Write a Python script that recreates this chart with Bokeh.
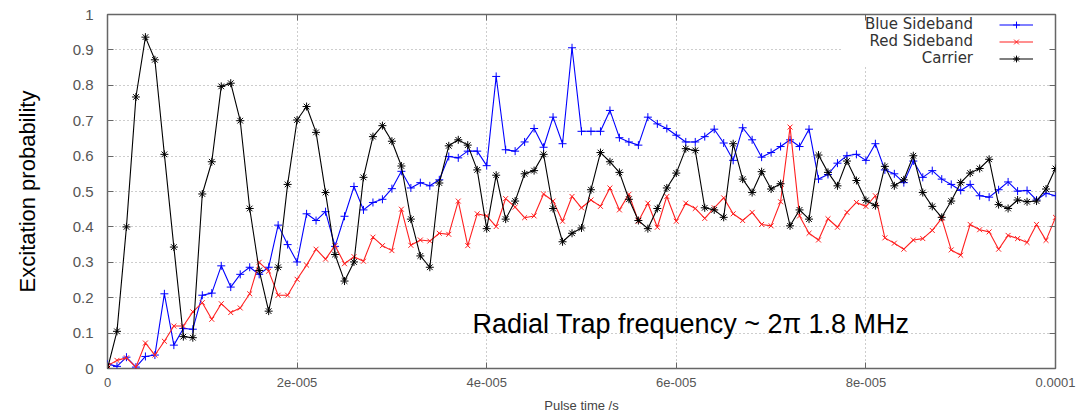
from bokeh.plotting import figure
from bokeh.models import (Range1d, FixedTicker, CustomJSTickFormatter, LinearAxis,
                          Legend, LegendItem, Label, BoxAnnotation)
from bokeh.core.properties import value
from bokeh.embed import file_html
from bokeh.resources import INLINE

# ---- data ----
time_s = [i * 1e-6 for i in range(101)]

blue_sideband = [0.013, 0.006, 0.032, 0.004, 0.034, 0.038, 0.211, 0.066, 0.113, 0.111,
                 0.207, 0.213, 0.29, 0.23, 0.266, 0.286, 0.266, 0.286, 0.405, 0.35,
                 0.301, 0.437, 0.418, 0.443, 0.345, 0.43, 0.514, 0.448, 0.469, 0.478,
                 0.508, 0.557, 0.51, 0.525, 0.516, 0.533, 0.599, 0.595, 0.614, 0.614,
                 0.573, 0.825, 0.618, 0.614, 0.64, 0.678, 0.625, 0.71, 0.635, 0.906,
                 0.67, 0.67, 0.67, 0.729, 0.652, 0.64, 0.631, 0.71, 0.691, 0.678,
                 0.659, 0.64, 0.64, 0.655, 0.676, 0.637, 0.588, 0.68, 0.646, 0.597,
                 0.61, 0.627, 0.646, 0.627, 0.676, 0.535, 0.548, 0.58, 0.601, 0.605,
                 0.588, 0.635, 0.561, 0.55, 0.525, 0.586, 0.54, 0.559, 0.535, 0.52,
                 0.503, 0.52, 0.488, 0.484, 0.505, 0.527, 0.501, 0.503, 0.476, 0.495,
                 0.488]

red_sideband = [0.008, 0.023, 0.03, 0.004, 0.072, 0.038, 0.077, 0.12, 0.12, 0.16,
                0.186, 0.139, 0.183, 0.158, 0.171, 0.211, 0.30, 0.275, 0.207, 0.207,
                0.252, 0.292, 0.337, 0.309, 0.347, 0.296, 0.316, 0.303, 0.371, 0.347,
                0.333, 0.45, 0.348, 0.363, 0.36, 0.382, 0.379, 0.473, 0.347, 0.437,
                0.431, 0.401, 0.48, 0.456, 0.426, 0.431, 0.493, 0.473, 0.416, 0.486,
                0.454, 0.476, 0.458, 0.51, 0.448, 0.492, 0.416, 0.467, 0.399, 0.486,
                0.416, 0.467, 0.452, 0.424, 0.454, 0.482, 0.437, 0.418, 0.441, 0.407,
                0.403, 0.471, 0.682, 0.431, 0.382, 0.363, 0.423, 0.399, 0.441, 0.469,
                0.458, 0.488, 0.369, 0.354, 0.337, 0.363, 0.367, 0.39, 0.424, 0.335,
                0.32, 0.407, 0.392, 0.386, 0.337, 0.376, 0.367, 0.356, 0.407, 0.362,
                0.427]

carrier = [0.0, 0.105, 0.40, 0.767, 0.936, 0.872, 0.605, 0.343, 0.09, 0.087,
           0.493, 0.584, 0.797, 0.806, 0.70, 0.452, 0.277, 0.162, 0.286, 0.52,
           0.702, 0.74, 0.667, 0.497, 0.322, 0.247, 0.301, 0.54, 0.655, 0.686,
           0.642, 0.572, 0.422, 0.318, 0.286, 0.524, 0.629, 0.646, 0.631, 0.561,
           0.395, 0.546, 0.422, 0.473, 0.55, 0.559, 0.605, 0.452, 0.358, 0.382,
           0.397, 0.505, 0.61, 0.584, 0.554, 0.478, 0.418, 0.395, 0.452, 0.51,
           0.552, 0.621, 0.616, 0.454, 0.448, 0.427, 0.635, 0.535, 0.497, 0.556,
           0.507, 0.522, 0.403, 0.448, 0.422, 0.603, 0.554, 0.516, 0.586, 0.531,
           0.475, 0.46, 0.571, 0.516, 0.533, 0.601, 0.497, 0.458, 0.427, 0.473,
           0.525, 0.552, 0.565, 0.591, 0.463, 0.452, 0.476, 0.471, 0.473, 0.507,
           0.565]

x_ticks = [0, 2e-5, 4e-5, 6e-5, 8e-5, 1e-4]
x_tick_labels = ["0", "2e-005", "4e-005", "6e-005", "8e-005", "0.0001"]
y_ticks = [0, 0.1, 0.2, 0.3, 0.4, 0.5, 0.6, 0.7, 0.8, 0.9, 1.0]
y_tick_labels = ["0", "0.1", "0.2", "0.3", "0.4", "0.5", "0.6", "0.7", "0.8", "0.9", "1"]

series_names = ["Blue Sideband", "Red Sideband", "Carrier"]
annotation_text = "Radial Trap frequency ~ 2\u03c0 1.8 MHz"

# ---- figure ----
p = figure(width=1077, height=418, x_range=Range1d(0, 1e-4), y_range=Range1d(0, 1),
           output_backend="svg", toolbar_location=None,
           min_border_left=107, min_border_right=22, min_border_top=14, min_border_bottom=50,
           background_fill_color="white", border_fill_color="white")

p.outline_line_color = "#666666"
p.outline_line_width = 1.5

lookup_code = """
    let best = 0, bd = 1e9;
    for (let i = 0; i < tv.length; i++) { const d = Math.abs(tv[i] - tick); if (d < bd) { bd = d; best = i; } }
    return lv[best];
"""
x_fmt = CustomJSTickFormatter(args=dict(tv=x_ticks, lv=x_tick_labels), code=lookup_code)
y_fmt = CustomJSTickFormatter(args=dict(tv=y_ticks, lv=y_tick_labels), code=lookup_code)
blank_fmt = CustomJSTickFormatter(code="return '';")

for ax in [p.xaxis[0], p.yaxis[0]]:
    ax.axis_line_color = None
    ax.major_tick_in = 6
    ax.major_tick_out = 0
    ax.minor_tick_line_color = None
    ax.major_tick_line_color = "#666666"
    ax.major_label_text_color = "#555555"

p.xaxis[0].ticker = FixedTicker(ticks=x_ticks)
p.xaxis[0].formatter = x_fmt
p.xaxis[0].major_label_text_font = "'Liberation Sans Narrow', 'Liberation Sans'"
p.xaxis[0].major_label_text_font_size = "13px"
p.xaxis[0].major_label_standoff = 9
p.xaxis[0].axis_label = "Pulse time /s"
p.xaxis[0].axis_label_text_font = "'Liberation Sans Narrow', 'Liberation Sans'"
p.xaxis[0].axis_label_text_font_size = "13px"
p.xaxis[0].axis_label_text_font_style = "normal"
p.xaxis[0].axis_label_text_color = "#444444"
p.xaxis[0].axis_label_standoff = 8

p.yaxis[0].ticker = FixedTicker(ticks=y_ticks)
p.yaxis[0].formatter = y_fmt
p.yaxis[0].major_label_text_font = "Liberation Sans"
p.yaxis[0].major_label_text_font_size = "15px"
p.yaxis[0].major_label_standoff = 14
p.yaxis[0].axis_label = "Excitation probability"
p.yaxis[0].axis_label_text_font = "Liberation Sans"
p.yaxis[0].axis_label_text_font_size = "22px"
p.yaxis[0].axis_label_text_font_style = "normal"
p.yaxis[0].axis_label_text_color = "black"
p.yaxis[0].axis_label_standoff = 30

right_ax = LinearAxis(ticker=FixedTicker(ticks=y_ticks), formatter=blank_fmt,
                      axis_line_color=None, major_tick_in=6, major_tick_out=0,
                      minor_tick_line_color=None, major_tick_line_color="#666666",
                      major_label_standoff=0, major_label_text_font_size="1px")
top_ax = LinearAxis(ticker=FixedTicker(ticks=x_ticks), formatter=blank_fmt,
                    axis_line_color=None, major_tick_in=6, major_tick_out=0,
                    minor_tick_line_color=None, major_tick_line_color="#666666",
                    major_label_standoff=0, major_label_text_font_size="1px")
p.add_layout(right_ax, "right")
p.add_layout(top_ax, "above")

p.xgrid.ticker = FixedTicker(ticks=x_ticks)
p.ygrid.ticker = FixedTicker(ticks=y_ticks)
for g in [p.xgrid[0], p.ygrid[0]]:
    g.grid_line_color = "#9a9a9a"
    g.grid_line_dash = "1 3"
    g.grid_line_width = 1

# white panel behind the key (hides the grid there, as in the original)
p.add_layout(BoxAnnotation(left=7.75e-5, right=9.95e-5, bottom=0.855, top=0.995,
                           fill_color="white", fill_alpha=1.0, line_color=None,
                           level="underlay"))

# ---- series ----
lb = p.line(time_s, blue_sideband, line_color="blue", line_width=1.1)
mb = p.scatter(time_s, blue_sideband, marker="cross", size=8, line_color="blue", line_width=1)
lr = p.line(time_s, red_sideband, line_color="#ff2020", line_width=1.1)
mr = p.scatter(time_s, red_sideband, marker="x", size=7, line_color="#ff2020", line_width=1)
lc = p.line(time_s, carrier, line_color="black", line_width=1.1)
mc = p.scatter(time_s, carrier, marker="asterisk", size=8, line_color="black", line_width=1)

# key: sample glyphs on the right, names right-aligned to their left
legend = Legend(items=[LegendItem(label=value(" "), renderers=[lb, mb]),
                       LegendItem(label=value(" "), renderers=[lr, mr]),
                       LegendItem(label=value(" "), renderers=[lc, mc])],
                location=(892, 301), orientation="vertical",
                background_fill_alpha=0.0, border_line_color=None,
                label_text_font_size="1px",
                glyph_width=34, glyph_height=17, label_height=17, label_width=0,
                label_standoff=0, spacing=0, padding=0, margin=0)
p.add_layout(legend)

key_y = [0.972, 0.924, 0.876]
for name, ky in zip(series_names, key_y):
    p.add_layout(Label(x=9.13e-5, y=ky, text=name, text_font="DejaVu Sans",
                       text_font_size="15px", text_color="#333333",
                       text_align="right", text_baseline="middle"))

p.add_layout(Label(x=3.85e-5, y=0.127, text=annotation_text, text_font="Liberation Sans",
                   text_font_size="27px", text_color="black", text_baseline="alphabetic"))

open("out.html", "w").write(file_html(p, INLINE))
